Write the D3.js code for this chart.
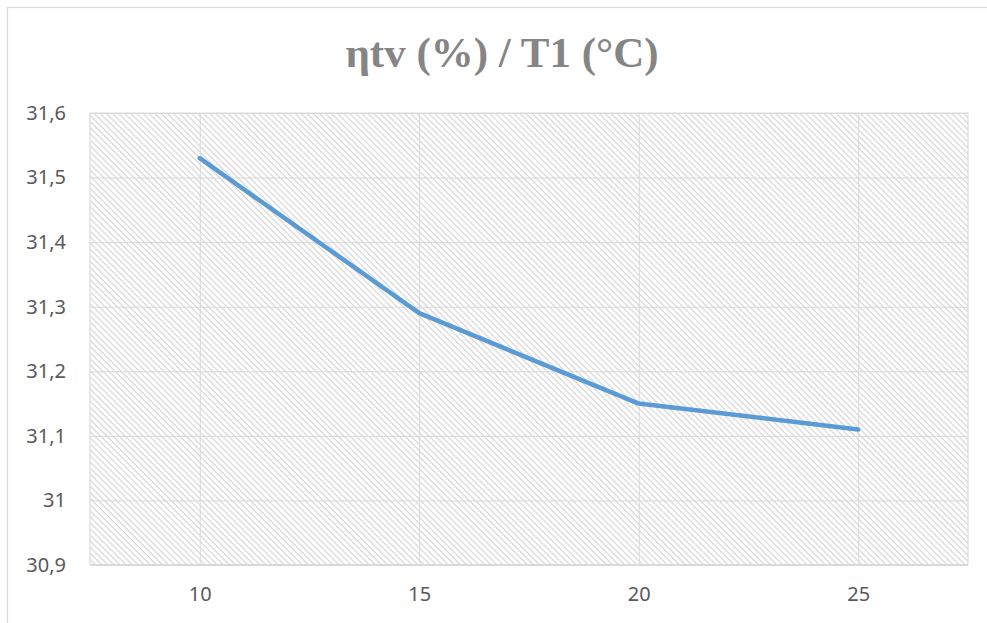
<!DOCTYPE html>
<html>
<head>
<meta charset="utf-8">
<script src="https://cdn.jsdelivr.net/npm/d3@7"></script>
<style>
  html, body { margin: 0; padding: 0; background: #fff; }
  svg { display: block; }
</style>
</head>
<body>
<svg id="chart" width="987" height="623"></svg>
<script>
// Chart data
const title = "ηtv (%) / T1 (°C)";
const temperatures = [10, 15, 20, 25];
const efficiency = [31.53, 31.29, 31.15, 31.11];
const yTicks = [30.9, 31.0, 31.1, 31.2, 31.3, 31.4, 31.5, 31.6];

const W = 987, H = 623;
const margin = { left: 90, top: 113, right: 19, bottom: 58 };
const plotW = W - margin.left - margin.right;
const plotH = H - margin.top - margin.bottom;

const svg = d3.select("#chart");

// Hatched plot-area fill
const defs = svg.append("defs");
const pat = defs.append("pattern")
  .attr("id", "hatch")
  .attr("patternUnits", "userSpaceOnUse")
  .attr("width", 10)
  .attr("height", 4.3)
  .attr("patternTransform", "rotate(45)");
pat.append("rect").attr("width", 10).attr("height", 4.3).attr("fill", "#fff");
pat.append("rect").attr("y", 0).attr("width", 10).attr("height", 1.2).attr("fill", "#d6d6d6");

// Chart-area border
svg.append("rect")
  .attr("x", 7.5).attr("y", 7.5)
  .attr("width", 1010).attr("height", 640)
  .attr("fill", "#fff")
  .attr("stroke", "#d9d9d9")
  .attr("stroke-width", 1.2);

// Title
svg.append("text")
  .attr("x", 502).attr("y", 67)
  .attr("text-anchor", "middle")
  .attr("font-family", "'Liberation Serif', 'Times New Roman', serif")
  .attr("font-weight", "bold")
  .attr("font-size", 43)
  .attr("fill", "#858585")
  .text(title);

const x = d3.scalePoint()
  .domain(temperatures)
  .range([margin.left, margin.left + plotW])
  .padding(0.5);

const y = d3.scaleLinear()
  .domain([30.9, 31.6])
  .range([margin.top + plotH, margin.top]);

const locale = d3.formatLocale({ decimal: ",", thousands: ".", grouping: [3], currency: ["", "€"] });
const fmt = v => {
  const r = Math.round(v * 10) / 10;
  return Number.isInteger(r) ? String(r) : locale.format(".1f")(r);
};

// Plot area background
svg.append("rect")
  .attr("x", margin.left).attr("y", margin.top)
  .attr("width", plotW).attr("height", plotH)
  .attr("fill", "url(#hatch)");

// Horizontal gridlines
const yAxis = svg.append("g")
  .attr("transform", `translate(${margin.left},0)`)
  .call(d3.axisLeft(y).tickValues(yTicks).tickSize(-plotW).tickPadding(24).tickFormat(fmt));
yAxis.select(".domain").remove();
yAxis.selectAll(".tick line").attr("stroke", "#d9d9d9").attr("stroke-width", 1);
yAxis.selectAll(".tick text")
  .attr("font-family", "'Noto Sans', 'Open Sans', sans-serif")
  .attr("font-size", 20)
  .attr("fill", "#595959");

// Vertical gridlines and category labels
const xAxis = svg.append("g")
  .attr("transform", `translate(0,${margin.top + plotH})`)
  .call(d3.axisBottom(x).tickSize(-plotH).tickPadding(22));
xAxis.select(".domain").remove();
xAxis.selectAll(".tick line").attr("stroke", "#d9d9d9").attr("stroke-width", 1);
xAxis.selectAll(".tick text")
  .attr("font-family", "'Noto Sans', 'Open Sans', sans-serif")
  .attr("font-size", 20)
  .attr("fill", "#595959");

// Plot area frame
svg.append("path")
  .attr("d", `M${margin.left},${margin.top + plotH}V${margin.top}H${margin.left + plotW}V${margin.top + plotH}`)
  .attr("fill", "none")
  .attr("stroke", "#dcdcdc")
  .attr("stroke-width", 1.2);
svg.append("line")
  .attr("x1", margin.left).attr("x2", margin.left + plotW)
  .attr("y1", margin.top + plotH).attr("y2", margin.top + plotH)
  .attr("stroke", "#d9d9d9")
  .attr("stroke-width", 2);

// Data line
const data = temperatures.map((t, i) => ({ t, v: efficiency[i] }));
svg.append("path")
  .datum(data)
  .attr("fill", "none")
  .attr("stroke", "#5b9bd5")
  .attr("stroke-width", 4.5)
  .attr("stroke-linejoin", "round")
  .attr("stroke-linecap", "round")
  .attr("d", d3.line().x(d => x(d.t)).y(d => y(d.v)));
</script>
</body>
</html>
